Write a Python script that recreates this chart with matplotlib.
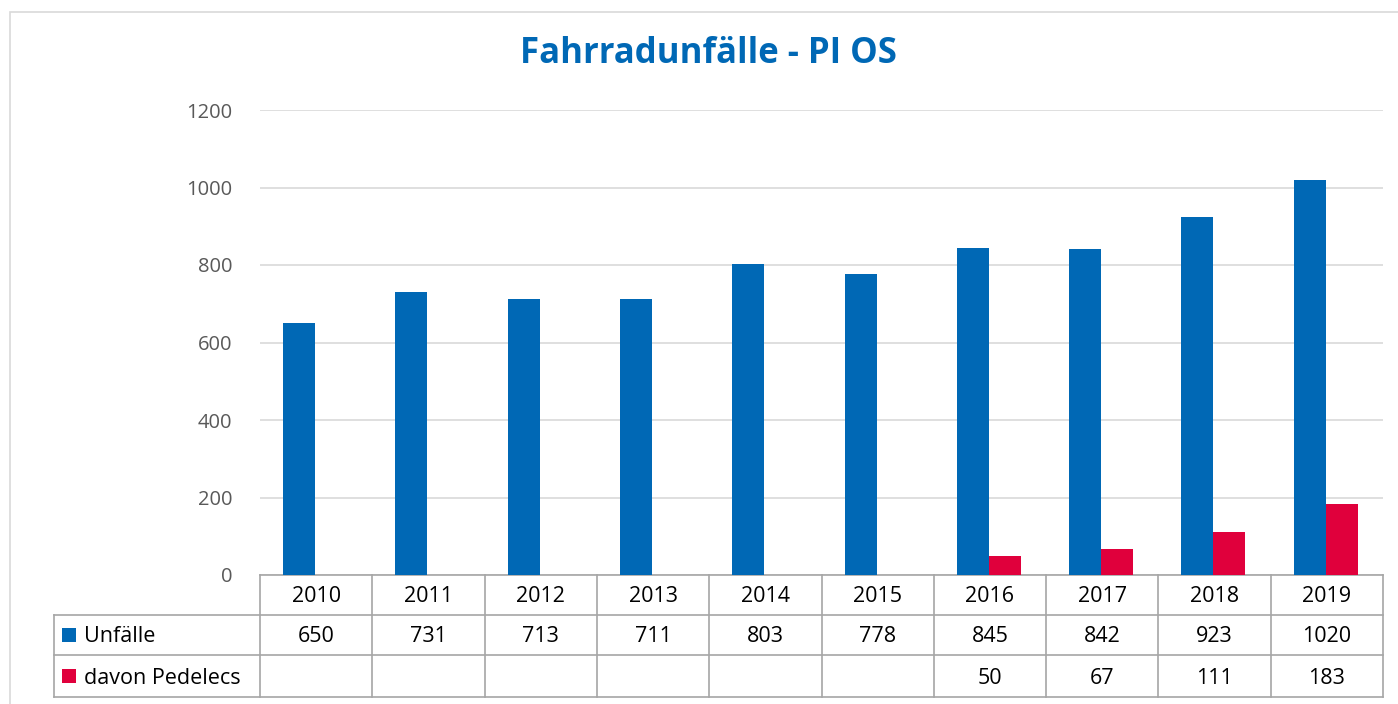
import numpy as np
import matplotlib
matplotlib.use("Agg")
import matplotlib.pyplot as plt
from matplotlib.patches import Rectangle
from matplotlib.lines import Line2D

years = ["2010", "2011", "2012", "2013", "2014", "2015", "2016", "2017", "2018", "2019"]
unfaelle = [650, 731, 713, 711, 803, 778, 845, 842, 923, 1020]
pedelecs = [None, None, None, None, None, None, 50, 67, 111, 183]
series_names = ["Unfälle", "davon Pedelecs"]
title = "Fahrradunfälle - PI OS"
yticks = [0, 200, 400, 600, 800, 1000, 1200]

BLUE = "#0068B5"
RED = "#E0003C"
GRID = "#D9D9D9"
TBL = "#A6A6A6"
FONT = "Open Sans"

W, H = 1398, 704
fig = plt.figure(figsize=(W / 100, H / 100), dpi=100)
fig.patch.set_facecolor("white")

# outer frame
fig.add_artist(Rectangle((10 / W, -0.01), 1.1, (H - 12) / H + 0.01, transform=fig.transFigure,
                         fill=False, edgecolor="#D9D9D9", linewidth=1.2))

L, R, T, B = 260, 1383, 110, 575
ax = fig.add_axes([L / W, 1 - B / H, (R - L) / W, (B - T) / H])
n = len(years)
x = np.arange(n)
bw = 0.285
ped_vals = np.array([np.nan if v is None else v for v in pedelecs], dtype=float)
ax.bar(x - bw / 2 - 0.01, unfaelle, width=bw, color=BLUE, zorder=3)
ax.bar(x + bw / 2 - 0.01, np.nan_to_num(ped_vals), width=bw, color=RED, zorder=3)
ax.set_xlim(-0.5, n - 0.5)
ax.set_ylim(0, 1200)
ax.set_yticks(yticks)
ax.set_yticklabels([str(t) for t in yticks], fontsize=14.5, color="#595959", family=FONT)
ax.tick_params(axis="y", length=0, pad=20)
ax.set_xticks([])
ax.grid(axis="y", color=GRID, linewidth=1.2, zorder=0)
for s in ["top", "right", "left"]:
    ax.spines[s].set_visible(False)
ax.spines["bottom"].set_color(TBL)
ax.spines["bottom"].set_linewidth(1.2)

fig.text(708 / W, 1 - 54 / H, title, ha="center", va="center", fontsize=25,
         fontweight="bold", color=BLUE, family=FONT)

# table
ph = B - T
def ay(py):
    return (B - py) / ph
tr = ax.get_xaxis_transform()
lab_left = -0.5 - (L - 54) / ((R - L) / n)
for py in [615, 655, 697]:
    ax.add_line(Line2D([lab_left, n - 0.5], [ay(py)] * 2, transform=tr, color=TBL, lw=1.2, clip_on=False))
for k in range(n + 1):
    ax.add_line(Line2D([k - 0.5] * 2, [ay(575), ay(697)], transform=tr, color=TBL, lw=1.2, clip_on=False))
ax.add_line(Line2D([lab_left] * 2, [ay(615), ay(697)], transform=tr, color=TBL, lw=1.2, clip_on=False))

tfs = 15.5
for k in range(n):
    ax.text(k, ay(597), years[k], transform=tr, ha="center", va="center", fontsize=tfs, family=FONT, clip_on=False)
    ax.text(k, ay(637), str(unfaelle[k]), transform=tr, ha="center", va="center", fontsize=tfs, family=FONT, clip_on=False)
    if pedelecs[k] is not None:
        ax.text(k, ay(678), str(pedelecs[k]), transform=tr, ha="center", va="center", fontsize=tfs, family=FONT, clip_on=False)

for name, col, py in [(series_names[0], BLUE, 635), (series_names[1], RED, 676)]:
    fig.add_artist(Rectangle((62 / W, 1 - (py + 7) / H), 14 / W, 14 / H, transform=fig.transFigure,
                             facecolor=col, edgecolor="none"))
    fig.text(84 / W, 1 - (py + 2) / H, name, ha="left", va="center", fontsize=tfs, family=FONT)

fig.savefig("out.png", dpi=100)
